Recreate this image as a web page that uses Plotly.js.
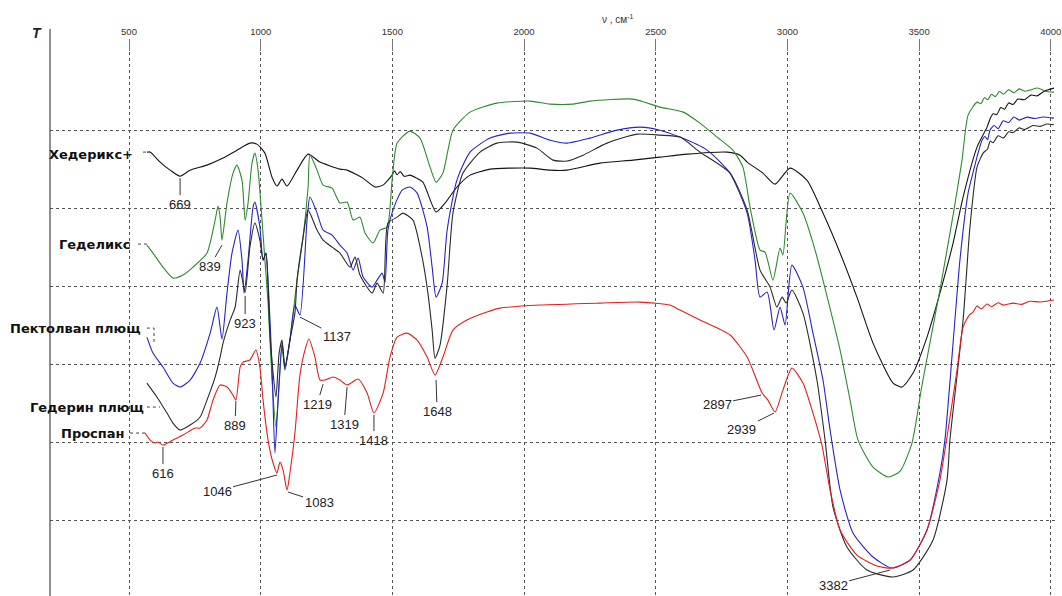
<!DOCTYPE html>
<html>
<head>
<meta charset="utf-8">
<script src="https://cdn.plot.ly/plotly-3.0.1.min.js"></script>
<style>html,body{margin:0;padding:0;background:#fff;}#chart{width:1062px;height:596px;}</style>
</head>
<body>
<div id="chart"></div>
<script>
// Wavenumber (cm-1), transmittance (arbitrary units) pairs
const hederiksPlus = [[568,57.2],[580,57.2],[618,55.92],[656,54.89],[694,54.12],[732,54.89],[796,55.53],[857,56.43],[910,57.45],[959,58.35],[986,58.22],[1016,57.07],[1043,53.99],[1062,52.85],[1081,53.74],[1100,52.85],[1138,54.89],[1180,56.94],[1225,55.92],[1301,55.02],[1328,54.89],[1388,53.87],[1434,52.72],[1464,52.97],[1499,54.25],[1508,54.8],[1518,54.3],[1530,54.7],[1545,54.1],[1567,54.25],[1590,53.9],[1616,53.36],[1666,49.52],[1700,50.67],[1745,52.72],[1795,54.25],[1871,55.02],[1947,55.15],[2023,55.15],[2099,54.89],[2163,54.89],[2288,55.79],[2414,56.17],[2516,56.56],[2619,56.94],[2771,57.2],[2820,56.81],[2847,55.92],[2907,54.51],[2953,53.1],[3010,55.15],[3074,53.61],[3135,49.39],[3200,44.27],[3264,38.63],[3325,32.74],[3401,27.62],[3435,27.11],[3477,28.9],[3530,33.51],[3579,39.14],[3629,45.55],[3667,51.44],[3720,57.84],[3758,60.4],[3770,61.5],[3781,62.1],[3795,62.0],[3810,62.9],[3825,62.7],[3840,63.5],[3857,63.3],[3875,64.0],[3900,63.9],[3925,64.5],[3948,64.4],[3975,65.0],[4012,65.39]];

const gedeliks = [[568,45.29],[591,44.27],[629,42.47],[667,41.06],[705,41.45],[743,42.47],[796,44.27],[827,48.49],[838,50.28],[846,48.87],[853,45.93],[872,50.67],[895,54.51],[910,55.53],[929,53.61],[941,48.49],[952,50.67],[967,55.79],[978,57.07],[990,54.89],[1005,48.49],[1016,43.37],[1028,37.86],[1043,28.01],[1058,21.99],[1070,27.37],[1081,32.49],[1092,29.54],[1111,33.13],[1138,40.81],[1161,46.31],[1180,52.72],[1187,56.81],[1214,54.89],[1237,52.97],[1271,52.59],[1301,50.67],[1328,50.8],[1351,48.49],[1377,48.87],[1396,46.83],[1427,45.55],[1453,47.21],[1480,47.59],[1499,53.61],[1518,58.35],[1567,59.89],[1605,58.99],[1643,55.28],[1666,53.36],[1692,54.51],[1730,60.01],[1795,62.32],[1897,63.47],[2023,63.73],[2099,63.34],[2186,63.34],[2250,63.73],[2414,63.98],[2516,62.96],[2604,62.32],[2668,60.91],[2733,59.12],[2793,57.45],[2831,55.28],[2858,50.16],[2896,44.65],[2915,44.39],[2945,40.81],[2972,44.91],[2983,44.01],[3010,51.95],[3059,49.39],[3105,44.65],[3154,38.25],[3200,31.85],[3238,25.44],[3268,20.32],[3325,16.87],[3382,15.59],[3428,16.35],[3473,19.94],[3511,27.37],[3579,39.53],[3629,49.13],[3663,56.17],[3686,61.94],[3720,63.6],[3735,63.4],[3748,64.2],[3760,63.9],[3775,64.6],[3790,64.3],[3805,65.0],[3820,64.6],[3840,65.2],[3860,64.8],[3880,65.3],[3900,65.0],[3921,65.14],[3950,65.4],[3980,65.0],[4012,64.88]];

const pektolvan = [[568,33.51],[591,31.46],[629,29.67],[667,27.62],[694,27.11],[732,28.01],[770,30.18],[808,34.02],[834,37.35],[853,33.26],[872,39.14],[891,44.27],[914,47.21],[929,43.37],[937,39.14],[952,43.37],[971,50.16],[978,50.8],[997,47.59],[1009,43.37],[1020,44.27],[1028,40.81],[1043,29.67],[1054,18.66],[1066,25.44],[1081,32.74],[1092,29.29],[1111,33.13],[1130,37.61],[1149,36.33],[1176,48.49],[1187,51.44],[1214,49.39],[1237,47.21],[1271,46.57],[1301,45.29],[1328,44.27],[1351,42.09],[1370,43.62],[1389,41.19],[1423,39.91],[1442,40.81],[1461,41.7],[1472,40.55],[1483,47.21],[1502,49.77],[1537,52.33],[1567,52.72],[1594,51.95],[1632,47.59],[1651,42.47],[1666,38.63],[1689,40.42],[1708,47.21],[1745,53.61],[1795,57.2],[1871,58.99],[1947,59.63],[2023,59.63],[2099,58.73],[2163,58.35],[2250,58.99],[2353,60.01],[2440,60.4],[2516,60.01],[2592,59.12],[2695,57.45],[2782,54.51],[2847,49.39],[2877,43.37],[2896,38.63],[2923,39.27],[2949,34.41],[2972,37.35],[2991,35.05],[3017,42.73],[3059,39.91],[3097,34.02],[3135,28.01],[3162,21.6],[3200,13.92],[3249,8.42],[3325,5.34],[3397,3.93],[3466,4.96],[3530,8.8],[3579,16.1],[3598,20.32],[3636,35.69],[3655,43.37],[3686,51.95],[3705,54.6],[3720,56.6],[3739,58.73],[3750,59.2],[3760,58.8],[3769,60.0],[3785,60.6],[3800,60.2],[3819,61.2],[3840,61.0],[3860,61.7],[3880,61.3],[3910,61.68],[3940,61.5],[3970,61.7],[4012,61.55]];

const gederin = [[568,27.62],[606,25.83],[644,23.78],[667,22.5],[694,21.6],[732,22.24],[770,23.27],[796,25.44],[827,28.39],[846,30.95],[857,32.74],[884,35.69],[903,37.35],[922,42.09],[941,39.27],[959,45.03],[978,48.11],[997,45.93],[1009,43.37],[1020,44.27],[1028,39.91],[1035,34.02],[1047,28.9],[1058,25.83],[1070,31.46],[1081,33.13],[1092,29.67],[1111,33.13],[1130,36.58],[1138,40.81],[1161,46.31],[1180,49.77],[1214,47.21],[1237,45.93],[1271,45.03],[1301,44.27],[1339,42.47],[1358,43.75],[1377,41.45],[1423,39.14],[1442,40.42],[1465,39.14],[1483,48.11],[1518,48.87],[1540,49.39],[1578,48.49],[1613,43.75],[1635,39.14],[1651,34.41],[1662,30.82],[1681,32.49],[1708,40.17],[1730,49.39],[1768,54.51],[1833,57.2],[1897,58.35],[1973,58.48],[2049,57.71],[2110,56.17],[2163,56.05],[2224,56.81],[2315,58.35],[2429,59.5],[2516,59.37],[2592,59.12],[2668,57.2],[2782,54.51],[2847,49.77],[2896,42.09],[2934,39.91],[2960,37.35],[2980,38.63],[2995,37.86],[3017,39.53],[3059,36.58],[3112,28.01],[3143,20.32],[3173,11.75],[3226,6.62],[3302,3.68],[3401,2.78],[3477,3.68],[3553,7.52],[3606,15.2],[3617,20.32],[3667,35.69],[3693,47.59],[3720,55.28],[3743,57.07],[3760,57.6],[3770,58.6],[3781,58.4],[3800,59.3],[3820,59.0],[3840,59.8],[3857,59.7],[3880,60.3],[3900,60.1],[3933,60.6],[3960,60.5],[3985,60.8],[4012,60.7]];

const prospan = [[561,21.22],[580,20.32],[599,19.94],[610,20.07],[629,19.68],[667,20.32],[705,20.96],[751,21.86],[770,21.86],[796,22.88],[819,25.44],[846,27.37],[872,27.11],[895,26.08],[906,25.44],[922,29.67],[933,30.31],[959,30.57],[982,31.85],[997,29.67],[1009,25.44],[1028,20.32],[1047,17.38],[1062,16.1],[1073,17.5],[1085,16.48],[1100,13.92],[1111,16.1],[1130,21.22],[1149,28.64],[1168,31.85],[1183,33.26],[1206,30.95],[1225,28.01],[1244,28.01],[1275,28.39],[1301,28.01],[1328,27.37],[1370,28.13],[1404,26.34],[1430,23.78],[1465,26.34],[1491,30.95],[1518,33.51],[1556,34.02],[1594,33.13],[1632,30.95],[1662,28.64],[1692,30.95],[1730,34.41],[1783,35.69],[1859,36.71],[1909,37.22],[2061,37.61],[2288,37.86],[2440,37.99],[2554,37.61],[2592,36.97],[2668,35.69],[2782,33.77],[2847,30.95],[2904,26.34],[2926,25.44],[2953,23.91],[2983,26.72],[3017,29.54],[3059,27.62],[3097,23.78],[3131,19.68],[3162,13.92],[3200,8.8],[3264,5.58],[3340,4.19],[3397,3.93],[3466,4.96],[3530,8.8],[3579,15.2],[3610,21.6],[3644,29.29],[3667,34.79],[3690,36.3],[3705,36.7],[3720,37.5],[3735,37.1],[3758,37.74],[3775,37.4],[3800,37.9],[3820,37.6],[3857,37.86],[3890,37.7],[3920,38.1],[3960,38.0],[4012,38.25]];

const seriesNames = ['Хедерикс+', 'Геделикс', 'Пектолван плющ', 'Гедерин плющ', 'Проспан'];
const seriesData = [hederiksPlus, gedeliks, pektolvan, gederin, prospan];
const seriesColors = ['#141414', '#2e8b2e', '#2424c8', '#2a2a2a', '#e41e1e'];

const xTicks = [500, 1000, 1500, 2000, 2500, 3000, 3500, 4000];
const yGrid = [10, 20, 30, 40, 50, 60, 70];

// Peak labels: text, wavenumber, T, label offset (px)
const peakLabels = [
  ['669', 694, 53.87, 0, 26],
  ['839', 853, 45.29, -12, 21],
  ['923', 941, 38.76, 0, 27],
  ['889', 906, 25.31, -1, 24],
  ['616', 629, 19.43, 0, 26],
  ['1046', 1062, 15.84, -60, 16],
  ['1083', 1104, 13.66, 31, 10],
  ['1137', 1149, 36.07, 37, 19],
  ['1219', 1237, 27.49, -6, 20],
  ['1319', 1328, 27.11, -3, 37],
  ['1418', 1430, 23.52, 0, 25],
  ['1648', 1666, 28.01, 1, 31],
  ['2897', 2900, 26.08, -44, 9],
  ['2939', 2949, 23.78, -32, 16],
  ['3382', 3390, 3.68, -57, 15]
];

// Series name labels: right edge wavenumber, T, and dotted leader points
const nameLabels = [
  {x: 521, y: 56.94, lead: [[553, 57.2], [580, 57.2]]},
  {x: 517, y: 45.42, lead: [[534, 45.42], [568, 45.42]]},
  {x: 555, y: 34.66, lead: [[568, 34.66], [595, 34.66], [595, 32.87]]},
  {x: 563, y: 24.55, lead: [[568, 24.55], [618, 24.55]]},
  {x: 494, y: 21.22, lead: [[504, 21.22], [561, 21.22]]}
];

const traces = seriesData.map((d, i) => ({
  type: 'scatter', mode: 'lines', name: seriesNames[i],
  x: d.map(p => p[0]), y: d.map(p => p[1]),
  line: {color: seriesColors[i], width: 1.1, shape: 'spline', smoothing: 0.6},
  hoverinfo: 'skip'
}));

nameLabels.forEach(n => {
  traces.push({
    type: 'scatter', mode: 'lines', showlegend: false, hoverinfo: 'skip',
    x: n.lead.map(p => p[0]), y: n.lead.map(p => p[1]),
    line: {color: '#444', width: 1, dash: 'dot'}
  });
});

const annotations = [];
peakLabels.forEach(p => {
  annotations.push({
    x: p[1], y: p[2], xref: 'x', yref: 'y', text: p[0],
    showarrow: true, arrowhead: 0, arrowwidth: 1, arrowcolor: '#333',
    ax: p[3], ay: p[4], standoff: 0,
    font: {family: 'Liberation Sans, Arial, sans-serif', size: 13, color: '#222'}
  });
});
nameLabels.forEach((n, i) => {
  annotations.push({
    x: n.x, y: n.y, xref: 'x', yref: 'y', text: '<b>' + seriesNames[i] + '</b>',
    showarrow: false, xanchor: 'right', yanchor: 'middle',
    font: {family: 'DejaVu Sans, Verdana, sans-serif', size: 13, color: '#111'}
  });
});
annotations.push({
  xref: 'paper', yref: 'paper', x: 0.565, y: 1.061, yanchor: 'middle', xanchor: 'center',
  text: 'ν , см<sup>-1</sup>', showarrow: false,
  font: {family: 'Liberation Sans, Arial, sans-serif', size: 10, color: '#333'}
});
annotations.push({
  xref: 'paper', yref: 'paper', x: -0.013, y: 1.035, xanchor: 'center', yanchor: 'middle',
  text: '<b><i>T</i></b>', showarrow: false,
  font: {family: 'Liberation Sans, Arial, sans-serif', size: 14, color: '#222'}
});

const layout = {
  width: 1062, height: 596,
  margin: {l: 50, r: 7, t: 52, b: 0, pad: 0},
  paper_bgcolor: '#fff', plot_bgcolor: '#fff',
  showlegend: false,
  xaxis: {
    range: [200, 4016], side: 'top', tickvals: xTicks, ticktext: xTicks.map(String),
    ticks: 'outside', ticklen: 12, tickwidth: 1, tickcolor: '#777',
    tickfont: {family: 'Liberation Sans, Arial, sans-serif', size: 9.5, color: '#333'},
    showgrid: true, gridcolor: '#555', griddash: '3px,3px', gridwidth: 1,
    zeroline: false, showline: false, fixedrange: true
  },
  yaxis: {
    range: [0.35, 70.02], tickvals: yGrid, showticklabels: false, ticks: '',
    showgrid: true, gridcolor: '#555', griddash: '3px,3px', gridwidth: 1,
    zeroline: false, showline: false, fixedrange: true
  },
  shapes: [
    {type: 'line', xref: 'paper', yref: 'paper', x0: 0, x1: 0, y0: 0, y1: 1.0423,
     line: {color: '#222', width: 1}}
  ],
  annotations: annotations
};

Plotly.newPlot('chart', traces, layout, {displayModeBar: false, staticPlot: true});
</script>
</body>
</html>
